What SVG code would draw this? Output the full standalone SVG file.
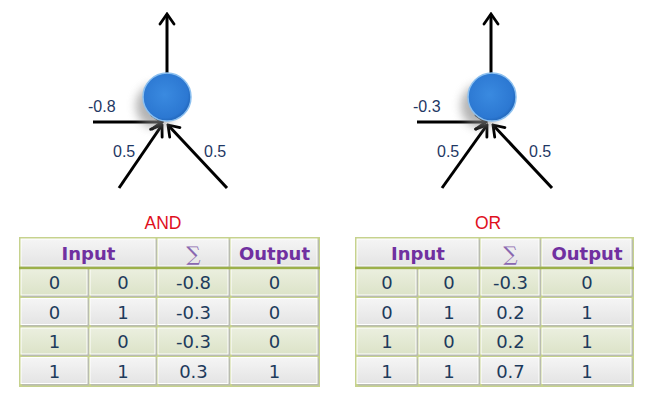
<svg xmlns="http://www.w3.org/2000/svg" width="649" height="400" viewBox="0 0 649 400">
<defs>
<marker id="ah" viewBox="-12 -9 14 18" markerWidth="14" markerHeight="18" refX="0" refY="0" orient="auto" markerUnits="userSpaceOnUse">
<path d="M-10,-7 L0,0 L-10,7" fill="none" stroke="#000" stroke-width="2.8" stroke-linecap="round" stroke-linejoin="miter"/>
</marker>
<radialGradient id="ball" cx="0.45" cy="0.45" r="0.6">
<stop offset="0" stop-color="#3a8ae0"/>
<stop offset="0.8" stop-color="#2c78d2"/>
<stop offset="1" stop-color="#1d5fb0"/>
</radialGradient>
<filter id="sh" x="-60%" y="-60%" width="220%" height="220%">
<feGaussianBlur stdDeviation="5"/>
</filter>
<linearGradient id="gg" x1="0" y1="0" x2="0" y2="1">
<stop offset="0" stop-color="#f5f5f5"/>
<stop offset="1" stop-color="#e4e4e4"/>
</linearGradient>
<linearGradient id="gv" x1="0" y1="0" x2="0" y2="1">
<stop offset="0" stop-color="#ebefdf"/>
<stop offset="1" stop-color="#dce3c8"/>
</linearGradient>
<style>
.lbl{font-family:"Liberation Sans",Arial,sans-serif;font-size:16px;fill:#1f3864}
.ttl{font-family:"Liberation Sans",Arial,sans-serif;font-size:17.5px;fill:#e0101e;text-anchor:middle}
.tb{fill:#c6d28e}
.sd{fill:#b9bcb0}
.g{fill:url(#gg);stroke:#fff;stroke-width:1}
.v{fill:url(#gv);stroke:#fff;stroke-width:1}
.hd{font-family:"DejaVu Sans",Verdana,sans-serif;font-size:18px;font-weight:bold;fill:#7030a0;text-anchor:middle}
.sg{font-family:"DejaVu Serif","Liberation Serif",serif;font-size:20px;fill:#8a68b0;text-anchor:middle}
.bd{font-family:"DejaVu Sans",Verdana,sans-serif;font-size:18px;fill:#1d3b5c;text-anchor:middle}
.hl{stroke:#9cb04a;stroke-width:2.5}
.cn{stroke:#000;stroke-width:3;fill:none;marker-end:url(#ah)}
</style>
</defs>
<rect width="649" height="400" fill="#fff"/>

<g id="connectors">
<line class="cn" x1="167" y1="73" x2="167" y2="14"/>
<line class="cn" x1="93" y1="122" x2="162" y2="122"/>
<line class="cn" x1="119" y1="188" x2="162" y2="125"/>
<line class="cn" x1="227" y1="188" x2="168" y2="125"/>
<line class="cn" x1="491" y1="73" x2="491" y2="14"/>
<line class="cn" x1="417" y1="122" x2="486" y2="122"/>
<line class="cn" x1="442" y1="188" x2="487" y2="125"/>
<line class="cn" x1="552" y1="188" x2="493" y2="125"/>
</g>

<g id="neuron-and">
<ellipse cx="156" cy="106" rx="20" ry="22" fill="#8a8a8a" opacity="0.65" filter="url(#sh)"/>
<circle cx="167" cy="97" r="24" fill="url(#ball)" stroke="#8cc0f0" stroke-width="1.5"/>
<text class="lbl" x="88" y="112">-0.8</text>
<text class="lbl" x="113" y="157">0.5</text>
<text class="lbl" x="204" y="157">0.5</text>
</g>

<g id="neuron-or">
<ellipse cx="481" cy="106" rx="20" ry="22" fill="#8a8a8a" opacity="0.65" filter="url(#sh)"/>
<circle cx="492" cy="97" r="24" fill="url(#ball)" stroke="#8cc0f0" stroke-width="1.5"/>
<text class="lbl" x="413" y="112">-0.3</text>
<text class="lbl" x="437" y="157">0.5</text>
<text class="lbl" x="529" y="157">0.5</text>
</g>

<g id="table-and">
<text class="ttl" x="163" y="229">AND</text>
<rect class="tb" x="19" y="237" width="301" height="150"/>
<rect class="sd" x="22" y="240" width="135" height="28"/><rect class="g" x="21" y="239" width="134" height="27"/>
<rect class="sd" x="159" y="240" width="71" height="28"/><rect class="g" x="158" y="239" width="70" height="27"/>
<rect class="sd" x="232" y="240" width="87" height="28"/><rect class="g" x="231" y="239" width="86" height="27"/>
<rect class="sd" x="22" y="270" width="67" height="27"/><rect class="v" x="21" y="269" width="66" height="26"/>
<rect class="sd" x="91" y="270" width="66" height="27"/><rect class="v" x="90" y="269" width="65" height="26"/>
<rect class="sd" x="159" y="270" width="71" height="27"/><rect class="v" x="158" y="269" width="70" height="26"/>
<rect class="sd" x="232" y="270" width="87" height="27"/><rect class="v" x="231" y="269" width="86" height="26"/>
<rect class="sd" x="22" y="299.5" width="67" height="27"/><rect class="g" x="21" y="298.5" width="66" height="26"/>
<rect class="sd" x="91" y="299.5" width="66" height="27"/><rect class="g" x="90" y="298.5" width="65" height="26"/>
<rect class="sd" x="159" y="299.5" width="71" height="27"/><rect class="g" x="158" y="298.5" width="70" height="26"/>
<rect class="sd" x="232" y="299.5" width="87" height="27"/><rect class="g" x="231" y="298.5" width="86" height="26"/>
<rect class="sd" x="22" y="329" width="67" height="27"/><rect class="v" x="21" y="328" width="66" height="26"/>
<rect class="sd" x="91" y="329" width="66" height="27"/><rect class="v" x="90" y="328" width="65" height="26"/>
<rect class="sd" x="159" y="329" width="71" height="27"/><rect class="v" x="158" y="328" width="70" height="26"/>
<rect class="sd" x="232" y="329" width="87" height="27"/><rect class="v" x="231" y="328" width="86" height="26"/>
<rect class="sd" x="22" y="358.5" width="67" height="27"/><rect class="g" x="21" y="357.5" width="66" height="26"/>
<rect class="sd" x="91" y="358.5" width="66" height="27"/><rect class="g" x="90" y="357.5" width="65" height="26"/>
<rect class="sd" x="159" y="358.5" width="71" height="27"/><rect class="g" x="158" y="357.5" width="70" height="26"/>
<rect class="sd" x="232" y="358.5" width="87" height="27"/><rect class="g" x="231" y="357.5" width="86" height="26"/>
<line class="hl" x1="19" y1="268" x2="320" y2="268"/>
<text class="hd" x="88.5" y="260">Input</text>
<text class="sg" x="193.5" y="261">∑</text>
<text class="hd" x="274.5" y="260">Output</text>
<text class="bd" x="54.5" y="289">0</text><text class="bd" x="123" y="289">0</text><text class="bd" x="193.5" y="289">-0.8</text><text class="bd" x="274.5" y="289">0</text>
<text class="bd" x="54.5" y="318.5">0</text><text class="bd" x="123" y="318.5">1</text><text class="bd" x="193.5" y="318.5">-0.3</text><text class="bd" x="274.5" y="318.5">0</text>
<text class="bd" x="54.5" y="348">1</text><text class="bd" x="123" y="348">0</text><text class="bd" x="193.5" y="348">-0.3</text><text class="bd" x="274.5" y="348">0</text>
<text class="bd" x="54.5" y="377.5">1</text><text class="bd" x="123" y="377.5">1</text><text class="bd" x="193.5" y="377.5">0.3</text><text class="bd" x="274.5" y="377.5">1</text>
</g>

<g id="table-or">
<text class="ttl" x="488" y="229">OR</text>
<rect class="tb" x="355" y="237" width="279" height="150"/>
<rect class="sd" x="358" y="240" width="122" height="28"/><rect class="g" x="357" y="239" width="121" height="27"/>
<rect class="sd" x="482" y="240" width="59" height="28"/><rect class="g" x="481" y="239" width="58" height="27"/>
<rect class="sd" x="543" y="240" width="90" height="28"/><rect class="g" x="542" y="239" width="89" height="27"/>
<rect class="sd" x="358" y="270" width="60" height="27"/><rect class="v" x="357" y="269" width="59" height="26"/>
<rect class="sd" x="420" y="270" width="60" height="27"/><rect class="v" x="419" y="269" width="59" height="26"/>
<rect class="sd" x="482" y="270" width="59" height="27"/><rect class="v" x="481" y="269" width="58" height="26"/>
<rect class="sd" x="543" y="270" width="90" height="27"/><rect class="v" x="542" y="269" width="89" height="26"/>
<rect class="sd" x="358" y="299.5" width="60" height="27"/><rect class="g" x="357" y="298.5" width="59" height="26"/>
<rect class="sd" x="420" y="299.5" width="60" height="27"/><rect class="g" x="419" y="298.5" width="59" height="26"/>
<rect class="sd" x="482" y="299.5" width="59" height="27"/><rect class="g" x="481" y="298.5" width="58" height="26"/>
<rect class="sd" x="543" y="299.5" width="90" height="27"/><rect class="g" x="542" y="298.5" width="89" height="26"/>
<rect class="sd" x="358" y="329" width="60" height="27"/><rect class="v" x="357" y="328" width="59" height="26"/>
<rect class="sd" x="420" y="329" width="60" height="27"/><rect class="v" x="419" y="328" width="59" height="26"/>
<rect class="sd" x="482" y="329" width="59" height="27"/><rect class="v" x="481" y="328" width="58" height="26"/>
<rect class="sd" x="543" y="329" width="90" height="27"/><rect class="v" x="542" y="328" width="89" height="26"/>
<rect class="sd" x="358" y="358.5" width="60" height="27"/><rect class="g" x="357" y="357.5" width="59" height="26"/>
<rect class="sd" x="420" y="358.5" width="60" height="27"/><rect class="g" x="419" y="357.5" width="59" height="26"/>
<rect class="sd" x="482" y="358.5" width="59" height="27"/><rect class="g" x="481" y="357.5" width="58" height="26"/>
<rect class="sd" x="543" y="358.5" width="90" height="27"/><rect class="g" x="542" y="357.5" width="89" height="26"/>
<line class="hl" x1="355" y1="268" x2="634" y2="268"/>
<text class="hd" x="418" y="260">Input</text>
<text class="sg" x="510.5" y="261">∑</text>
<text class="hd" x="587" y="260">Output</text>
<text class="bd" x="387" y="289">0</text><text class="bd" x="449" y="289">0</text><text class="bd" x="510.5" y="289">-0.3</text><text class="bd" x="587" y="289">0</text>
<text class="bd" x="387" y="318.5">0</text><text class="bd" x="449" y="318.5">1</text><text class="bd" x="510.5" y="318.5">0.2</text><text class="bd" x="587" y="318.5">1</text>
<text class="bd" x="387" y="348">1</text><text class="bd" x="449" y="348">0</text><text class="bd" x="510.5" y="348">0.2</text><text class="bd" x="587" y="348">1</text>
<text class="bd" x="387" y="377.5">1</text><text class="bd" x="449" y="377.5">1</text><text class="bd" x="510.5" y="377.5">0.7</text><text class="bd" x="587" y="377.5">1</text>
</g>
</svg>
